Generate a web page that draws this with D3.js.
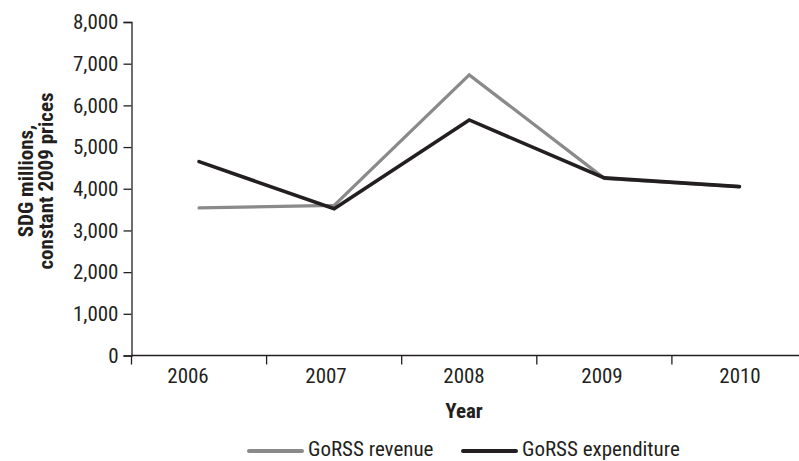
<!DOCTYPE html>
<html>
<head>
<meta charset="utf-8">
<script src="https://cdn.jsdelivr.net/npm/d3@7/dist/d3.min.js"></script>
<style>
  html, body { margin: 0; padding: 0; background: #fff; }
  svg text { font-family: "Liberation Sans Narrow", "Roboto Condensed", "Arial Narrow", sans-serif; fill: #231f20; }
</style>
</head>
<body>
<svg id="chart" width="799" height="461"></svg>
<script>
const years = ["2006", "2007", "2008", "2009", "2010"];
const revenue = [3540, 3600, 6730, 4250, 4050];
const expenditure = [4650, 3520, 5650, 4260, 4050];
const yTicks = [0, 1000, 2000, 3000, 4000, 5000, 6000, 7000, 8000];
const seriesNames = ["GoRSS revenue", "GoRSS expenditure"];
const seriesColors = ["#8a8a8a", "#231f20"];

const svg = d3.select("#chart");
const ink = "#231f20";
const fs = 21;

const x = d3.scaleBand().domain(years).range([131.5, 807]).padding(0);
const xLabel = d3.scalePoint().domain(years).range([188, 740]);
const y = d3.scaleLinear().domain([0, 8000]).range([355.5, 22]);

// Y axis
const yAxis = d3.axisLeft(y).tickValues(yTicks).tickFormat(d3.format(",")).tickSize(8).tickPadding(5);
const gy = svg.append("g").attr("transform", "translate(131.5,0)").call(yAxis);
gy.select(".domain").attr("stroke", ink).attr("stroke-width", 1.3);
gy.selectAll(".tick line").attr("stroke", ink).attr("stroke-width", 1.3);
gy.selectAll(".tick text").style("font-size", fs + "px").attr("fill", ink);

// X axis line
svg.append("line").attr("x1", 131.5).attr("x2", 799).attr("y1", y(0)).attr("y2", y(0))
  .attr("stroke", ink).attr("stroke-width", 1.3);
// X ticks at band boundaries
const bounds = years.map(d => x(d)).concat([x.range()[1]]);
svg.append("g").selectAll("line").data(bounds).join("line")
  .attr("x1", d => d).attr("x2", d => d)
  .attr("y1", y(0)).attr("y2", y(0) + 9)
  .attr("stroke", ink).attr("stroke-width", 1.3);
// X labels
svg.append("g").selectAll("text").data(years).join("text")
  .attr("x", d => xLabel(d))
  .attr("y", 383)
  .attr("text-anchor", "middle")
  .style("font-size", fs + "px")
  .text(d => d);

// Axis titles
svg.append("text").attr("x", 464).attr("y", 418).attr("text-anchor", "middle")
  .style("font-size", fs + "px").style("font-weight", "bold").text("Year");
const yt = svg.append("text").attr("transform", "translate(0,181) rotate(-90)")
  .attr("text-anchor", "middle").style("font-size", fs + "px").style("font-weight", "bold");
yt.append("tspan").attr("x", 0).attr("y", 33).text("SDG millions,");
yt.append("tspan").attr("x", 0).attr("y", 53).text("constant 2009 prices");

// Lines
const series = [revenue, expenditure];
const line = d3.line().x((d, i) => x(years[i]) + x.bandwidth() / 2).y(d => y(d));
series.forEach((s, k) => {
  svg.append("path").datum(s).attr("d", line)
    .attr("fill", "none").attr("stroke", seriesColors[k])
    .attr("stroke-width", k === 0 ? 3.2 : 3.6)
    .attr("stroke-linejoin", "miter").attr("stroke-linecap", "round");
});

// Legend
const legendX = [249, 463];
const lg = svg.append("g");
seriesNames.forEach((name, k) => {
  lg.append("line").attr("x1", legendX[k]).attr("x2", legendX[k] + 53)
    .attr("y1", 451).attr("y2", 451)
    .attr("stroke", seriesColors[k]).attr("stroke-width", 4).attr("stroke-linecap", "round");
  lg.append("text").attr("x", legendX[k] + 59).attr("y", 456)
    .style("font-size", fs + "px").text(name);
});
</script>
</body>
</html>
